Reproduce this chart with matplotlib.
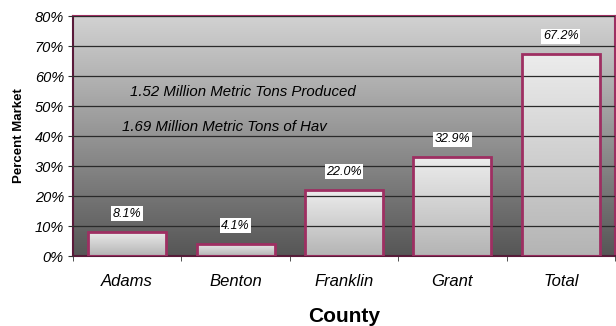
import numpy as np
import matplotlib.pyplot as plt
from matplotlib.colors import LinearSegmentedColormap
from matplotlib.ticker import FuncFormatter, MultipleLocator

plt.rcParams['font.family'] = ['Liberation Sans', 'DejaVu Sans']

counties = ["Adams", "Benton", "Franklin", "Grant", "Total"]
share = [8.1, 4.1, 22.0, 32.9, 67.2]
notes = ["1.52 Million Metric Tons Produced", "1.69 Million Metric Tons of Hav"]

edge = "#9e2f62"

fig = plt.figure(figsize=(6.16, 3.26), dpi=100)
ax = fig.add_axes([73 / 616, 1 - 256 / 326, 542 / 616, 240 / 326])

n = len(counties)
x = np.arange(n)
ax.set_xlim(-0.5, n - 0.5)
ax.set_ylim(0, 80)

# grey gradient behind the plot
bg = LinearSegmentedColormap.from_list("bg", ["#565656", "#d2d2d2"])
grad = np.linspace(0, 1, 256).reshape(-1, 1)
ax.imshow(grad, cmap=bg, aspect="auto", origin="lower",
          extent=(-0.5, n - 0.5, 0, 80), zorder=0)

ax.yaxis.set_major_locator(MultipleLocator(10))
ax.grid(axis="y", color="#2a2a2a", linewidth=0.9, zorder=1)
ax.set_axisbelow(False)

bars = ax.bar(x, share, width=0.72, facecolor="none", edgecolor=edge,
              linewidth=2, zorder=3)
barmap = LinearSegmentedColormap.from_list("bar", ["#b4b4b4", "#ececec"])
for b in bars:
    x0, y0 = b.get_x(), b.get_y()
    im = ax.imshow(grad, cmap=barmap, aspect="auto", origin="lower",
                   extent=(x0, x0 + b.get_width(), y0, y0 + b.get_height()),
                   zorder=2)
    im.set_clip_path(b)

for xi, v in zip(x, share):
    ax.annotate(f"{v:.1f}%", (xi, v), xytext=(0, 13), textcoords="offset points",
                ha="center", va="center", fontsize=9, style="italic",
                bbox=dict(boxstyle="square,pad=0.12", fc="white", ec="none"),
                zorder=5)

ax.text(0.03, 54.7, notes[0], fontsize=10.8, style="italic", va="center", zorder=4)
ax.text(-0.05, 43.0, notes[1], fontsize=10.8, style="italic", va="center", zorder=4)

ax.set_ylim(0, 80)
ax.set_xlim(-0.5, n - 0.5)
ax.yaxis.set_major_formatter(FuncFormatter(lambda v, p: f"{v:.0f}%"))
ax.set_xticks(x)
ax.set_xticklabels(counties, style="italic", fontsize=12)
ax.set_xticks(np.arange(n + 1) - 0.5, minor=True)
ax.tick_params(axis="x", which="major", length=0, pad=13)
ax.tick_params(axis="x", which="minor", length=3.5, color="#333333")
ax.tick_params(axis="y", length=3.5, color="#333333", labelsize=10.5, pad=3)
for lab in ax.get_yticklabels():
    lab.set_style("italic")

for side in ["top", "right", "bottom", "left"]:
    ax.spines[side].set_color(edge)
    ax.spines[side].set_linewidth(1.5)
ax.spines["bottom"].set_color("#5a1a3a")
ax.spines["left"].set_color("#5a1a3a")

fig.text(344 / 616, 1 - 316 / 326, "County", fontsize=15, fontweight="bold",
         ha="center", va="center")
fig.text(19 / 616, 1 - 136 / 326, "Percent Market", fontsize=9.5,
         fontweight="bold", rotation=90, ha="center", va="center")

fig.savefig("out.png", dpi=100)
